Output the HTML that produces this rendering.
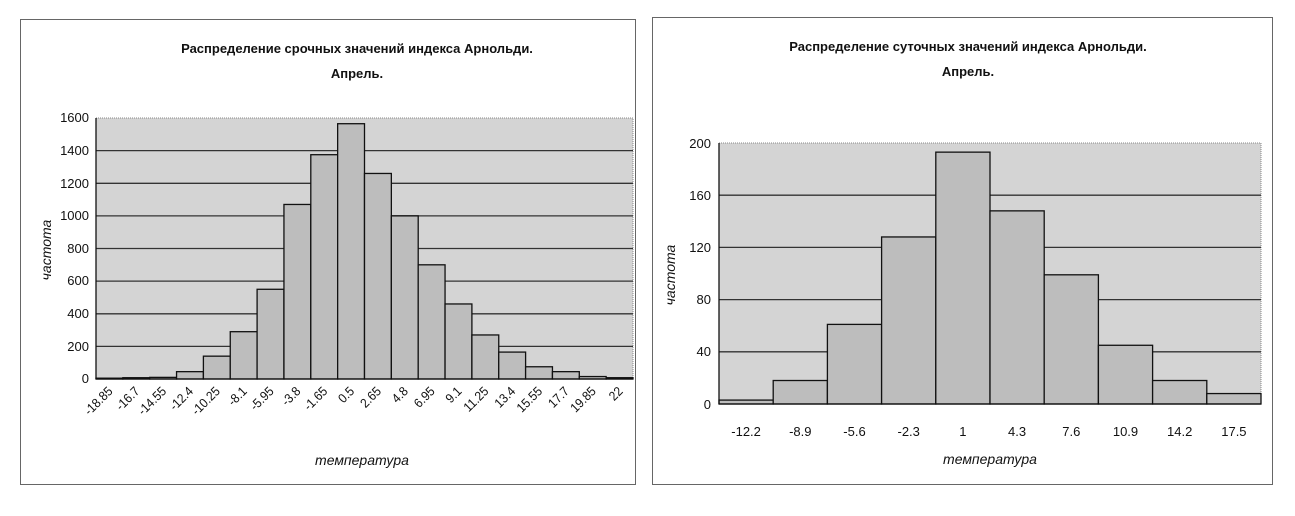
<!DOCTYPE html>
<html><head><meta charset="utf-8"><style>
html,body{margin:0;padding:0;background:#fff;}
svg{display:block;font-family:"Liberation Sans",Arial,sans-serif;}
</style></head><body>
<svg width="1295" height="516" viewBox="0 0 1295 516" xmlns="http://www.w3.org/2000/svg">
<rect x="0" y="0" width="1295" height="516" fill="#fff"/>
<rect x="20.5" y="19.5" width="615" height="465" fill="#fff" stroke="#666" stroke-width="1"/>
<text x="357" y="53" text-anchor="middle" font-size="13" font-weight="bold" fill="#111">Распределение срочных значений индекса Арнольди.</text>
<text x="357" y="78" text-anchor="middle" font-size="13" font-weight="bold" fill="#111">Апрель.</text>
<rect x="96" y="118" width="537" height="261" fill="#d4d4d4" stroke="#888" stroke-dasharray="1,1"/>
<g stroke="#333" stroke-width="1.3">
<line x1="96" x2="633" y1="150.6" y2="150.6"/><line x1="96" x2="633" y1="183.3" y2="183.3"/>
<line x1="96" x2="633" y1="215.9" y2="215.9"/><line x1="96" x2="633" y1="248.5" y2="248.5"/>
<line x1="96" x2="633" y1="281.1" y2="281.1"/><line x1="96" x2="633" y1="313.8" y2="313.8"/>
<line x1="96" x2="633" y1="346.4" y2="346.4"/>
</g>
<g id="lb" fill="#bdbdbd" stroke="#111" stroke-width="1.3"></g>
<line x1="96" x2="633" y1="379" y2="379" stroke="#111" stroke-width="1.3"/>
<line x1="96" x2="96" y1="118" y2="379" stroke="#111" stroke-width="1.3"/>
<g font-size="13" fill="#111" text-anchor="end" transform="scale(1,1)">
<text x="89" y="122">1600</text><text x="89" y="155">1400</text><text x="89" y="188">1200</text>
<text x="89" y="220">1000</text><text x="89" y="253">800</text><text x="89" y="285">600</text>
<text x="89" y="318">400</text><text x="89" y="351">200</text><text x="89" y="383">0</text>
</g>
<g id="lx" font-size="13" fill="#111" text-anchor="end"></g>
<text transform="translate(51,250) rotate(-90)" text-anchor="middle" font-size="14" font-style="italic" fill="#111">частота</text>
<text x="362" y="465" text-anchor="middle" font-size="14" font-style="italic" fill="#111">температура</text>

<rect x="652.5" y="17.5" width="620" height="467" fill="#fff" stroke="#666" stroke-width="1"/>
<text x="968" y="51" text-anchor="middle" font-size="13" font-weight="bold" fill="#111">Распределение суточных значений индекса Арнольди.</text>
<text x="968" y="76" text-anchor="middle" font-size="13" font-weight="bold" fill="#111">Апрель.</text>
<rect x="719" y="143" width="542" height="261" fill="#d4d4d4" stroke="#888" stroke-dasharray="1,1"/>
<g stroke="#333" stroke-width="1.3">
<line x1="719" x2="1261" y1="195.2" y2="195.2"/><line x1="719" x2="1261" y1="247.4" y2="247.4"/>
<line x1="719" x2="1261" y1="299.6" y2="299.6"/><line x1="719" x2="1261" y1="351.8" y2="351.8"/>
</g>
<g id="rb" fill="#bdbdbd" stroke="#111" stroke-width="1.3"></g>
<line x1="719" x2="1261" y1="404" y2="404" stroke="#111" stroke-width="1.3"/>
<line x1="719" x2="719" y1="143" y2="404" stroke="#111" stroke-width="1.3"/>
<g font-size="13" fill="#111" text-anchor="end">
<text x="711" y="148">200</text><text x="711" y="200">160</text><text x="711" y="252">120</text>
<text x="711" y="304">80</text><text x="711" y="356">40</text><text x="711" y="409">0</text>
</g>
<g id="rx" font-size="13" fill="#111" text-anchor="middle"></g>
<text transform="translate(675,275) rotate(-90)" text-anchor="middle" font-size="14" font-style="italic" fill="#111">частота</text>
<text x="990" y="464" text-anchor="middle" font-size="14" font-style="italic" fill="#111">температура</text>
</svg>
<script>
var NS="http://www.w3.org/2000/svg";
function el(p,t,a,txt){var e=document.createElementNS(NS,t);for(var k in a)e.setAttribute(k,a[k]);if(txt!==undefined)e.textContent=txt;document.getElementById(p).appendChild(e);}
var L=[5,8,10,45,140,290,550,1070,1375,1565,1260,1000,700,460,270,165,75,45,15,8];
var LL=["-18.85","-16.7","-14.55","-12.4","-10.25","-8.1","-5.95","-3.8","-1.65","0.5","2.65","4.8","6.95","9.1","11.25","13.4","15.55","17.7","19.85","22"];
var w=537/20;
L.forEach(function(v,i){var h=v*261/1600;el("lb","rect",{x:96+i*w,y:379-h,width:w,height:h});
var cx=96+i*w+w/2+4;el("lx","text",{transform:"translate("+cx+",392) rotate(-45) scale(0.92,1)"},LL[i]);});
var R=[3,18,61,128,193,148,99,45,18,8];
var RL=["-12.2","-8.9","-5.6","-2.3","1","4.3","7.6","10.9","14.2","17.5"];
var w2=542/10;
R.forEach(function(v,i){var h=v*261/200;el("rb","rect",{x:719+i*w2,y:404-h,width:w2,height:h});
el("rx","text",{x:719+i*w2+w2/2,y:436},RL[i]);});
</script>
</body></html>
